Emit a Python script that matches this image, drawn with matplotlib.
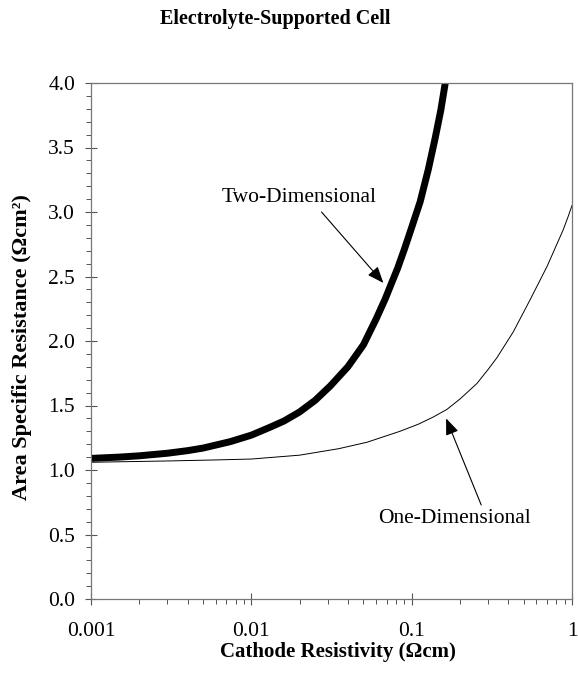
import matplotlib
matplotlib.use("Agg")
import matplotlib.pyplot as plt
from matplotlib.ticker import FixedLocator, LogLocator, NullFormatter, MultipleLocator, FormatStrFormatter

plt.rcParams['font.family'] = ['Liberation Serif', 'DejaVu Serif']

# Data
two_d_x = [0.001, 0.0015, 0.002, 0.003, 0.004, 0.005, 0.0074, 0.01, 0.013, 0.016, 0.020, 0.025,
           0.031, 0.040, 0.050, 0.060, 0.0686, 0.075, 0.0815, 0.090, 0.100, 0.113, 0.127, 0.140,
           0.152, 0.162]
two_d_y = [1.09, 1.10, 1.11, 1.13, 1.15, 1.17, 1.22, 1.27, 1.33, 1.38, 1.45, 1.54,
           1.65, 1.80, 1.97, 2.17, 2.33, 2.45, 2.56, 2.71, 2.88, 3.08, 3.33, 3.57,
           3.79, 4.00]

one_d_x = [0.001, 0.003, 0.006, 0.01, 0.02, 0.035, 0.0526, 0.0845, 0.11, 0.136, 0.166, 0.20,
           0.255, 0.30, 0.34, 0.43, 0.548, 0.70, 0.88, 0.94, 1.0]
one_d_y = [1.06, 1.07, 1.078, 1.085, 1.115, 1.165, 1.215, 1.30, 1.355, 1.41, 1.47, 1.55,
           1.67, 1.78, 1.87, 2.07, 2.32, 2.58, 2.86, 2.955, 3.05]

x_ticks = [0.001, 0.01, 0.1, 1]
x_tick_labels = ['0.001', '0.01', '0.1', '1']

title = 'Electrolyte-Supported Cell'
xlabel = 'Cathode Resistivity (\u03a9cm)'
ylabel = 'Area Specific Resistance (\u03a9cm\u00b2)'

fig = plt.figure(figsize=(5.78, 6.80), dpi=100)
ax = fig.add_axes([91/578, 81/680, (572-91)/578, (599-83)/680])

ax.plot(two_d_x, two_d_y, color='black', lw=5.0, solid_capstyle='butt', solid_joinstyle='round')
ax.plot(one_d_x, one_d_y, color='black', lw=0.7, solid_joinstyle='round')

ax.set_xscale('log')
ax.set_xlim(0.001, 1)
ax.set_ylim(0, 4.0)

ax.xaxis.set_major_locator(FixedLocator(x_ticks))
ax.set_xticklabels(x_tick_labels)
ax.xaxis.set_minor_locator(LogLocator(base=10, subs=range(2, 10)))
ax.xaxis.set_minor_formatter(NullFormatter())

ax.yaxis.set_major_locator(MultipleLocator(0.5))
ax.yaxis.set_minor_locator(MultipleLocator(0.1))
ax.yaxis.set_major_formatter(FormatStrFormatter('%.1f'))

spine_col = '#777777'
for s in ax.spines.values():
    s.set_color(spine_col)
    s.set_linewidth(0.9)

ax.tick_params(axis='both', which='major', direction='inout', length=9, width=0.8,
               color='#555555', labelsize=15.5, labelcolor='black')
ax.tick_params(axis='both', which='minor', direction='out', length=3.5, width=0.7, color='#555555')
ax.tick_params(axis='x', which='major', pad=12)
ax.tick_params(axis='y', which='major', pad=7)
ax.tick_params(top=False, right=False, which='both')

fig.text(275/578, 1 - 19/680, title, ha='center', va='center', fontsize=14.5, fontweight='bold')
fig.text(338/578, 1 - 652/680, xlabel, ha='center', va='center', fontsize=15, fontweight='bold')
fig.text(22/578, 1 - 347/680, ylabel, ha='center', va='center', fontsize=16, fontweight='bold', rotation=90)

ax.text(0.020, 3.11, 'Two-Dimensional', ha='center', va='center', fontsize=15.5)
ax.annotate('', xy=(0.0666, 2.45), xytext=(0.0274, 3.00),
            arrowprops=dict(arrowstyle='-|>,head_length=1.0,head_width=0.4', color='black', lw=0.8,
                            shrinkA=0, shrinkB=0))

ax.text(0.184, 0.625, 'One-Dimensional', ha='center', va='center', fontsize=15.5)
ax.annotate('', xy=(0.164, 1.40), xytext=(0.2715, 0.729),
            arrowprops=dict(arrowstyle='-|>,head_length=1.0,head_width=0.4', color='black', lw=0.8,
                            shrinkA=0, shrinkB=0))

fig.savefig('out.png', dpi=100)
